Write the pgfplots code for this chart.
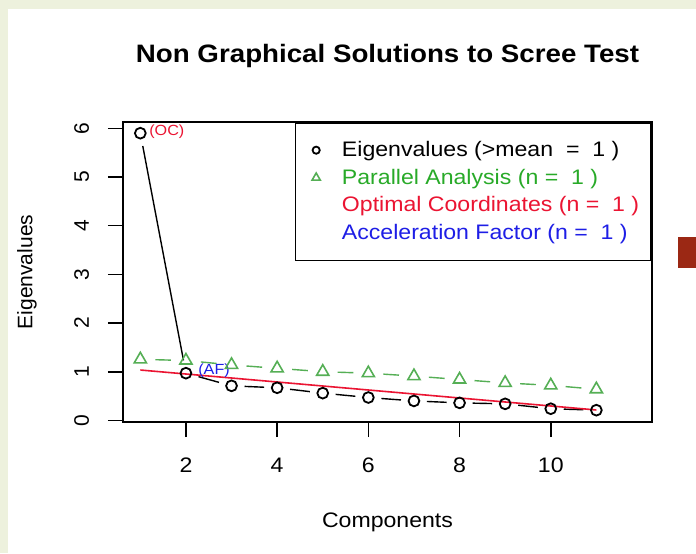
\documentclass[border=0pt]{standalone}
\usepackage{fontspec}
\setmainfont{Liberation Sans}[FakeStretch=1.1]
\newfontfamily\plainfont{Liberation Sans}
\usepackage{pgfplots}
\usepackage{pgfplotstable}
\pgfplotsset{compat=1.18}

\definecolor{bgstrip}{RGB}{237,241,221}
\definecolor{slidered}{RGB}{155,40,20}
\definecolor{pagreen}{RGB}{40,170,40}
\definecolor{pamark}{RGB}{85,175,85}
\definecolor{ocred}{RGB}{235,20,50}
\definecolor{afblue}{RGB}{30,30,230}

\pgfplotstableread{
x y
1 5.90
2 0.97
3 0.71
4 0.67
5 0.56
6 0.47
7 0.40
8 0.36
9 0.34
10 0.24
11 0.21
}\eigen

\pgfplotstableread{
x y
1 1.255
2 1.23
3 1.14
4 1.07
5 1.00
6 0.97
7 0.91
8 0.84
9 0.77
10 0.72
11 0.64
}\parallel

\begin{document}
\begin{tikzpicture}
\useasboundingbox (0,0) rectangle (348pt,276.5pt);
\fill[white] (0,0) rectangle (348pt,276.5pt);
\fill[bgstrip] (0,0) rectangle (4pt,276.5pt);
\fill[bgstrip] (0,272pt) rectangle (348pt,276.5pt);
\fill[slidered] (339pt,142.5pt) rectangle (348pt,158pt);
\begin{axis}[
  at={(61.5pt,65.5pt)}, anchor=south west,
  scale only axis, width=264.5pt, height=150pt,
  xmin=0.62, xmax=12.22, ymin=-0.033, ymax=6.13,
  xtick={2,4,6,8,10}, ytick={0,1,2,3,4,5,6},
  tick align=outside, xtick pos=left, ytick pos=left,
  major tick length=7.5pt,
  major tick style={black, line width=0.8pt},
  axis line style={black, line width=0.9pt},
  /pgf/number format/assume math mode=true,
  xticklabel style={font=\fontsize{10.5}{12}\selectfont, anchor=base, inner sep=0pt},
  xticklabel shift=17.85pt,
  yticklabel style={font=\plainfont\fontsize{10.5}{12}\selectfont, rotate=90, anchor=base, inner sep=0pt},
  yticklabel shift=9.5pt,
  xlabel={Components},
  xlabel style={at={(axis description cs:0.5,0)}, anchor=base, yshift=-52.5pt, inner sep=0pt, font=\fontsize{10.5}{12}\selectfont},
  ylabel={Eigenvalues},
  ylabel style={at={(axis description cs:-0.17146,0.5)}, anchor=base, inner sep=0pt, font=\plainfont\fontsize{10.5}{12}\selectfont},
  title={Non Graphical Solutions to Scree Test},
  title style={at={(axis description cs:0.5,1)}, anchor=base, yshift=23.85pt, inner sep=0pt, font=\bfseries\fontsize{12.6}{15}\selectfont},
  legend cell align=left,
  legend style={at={(rel axis cs:1,1)}, anchor=north east, draw=black, line width=0.8pt, fill=white,
    inner xsep=6pt, inner ysep=6.8pt, row sep=0pt, font=\fontsize{10.5}{12}\selectfont,
    nodes={inner sep=0pt, text height=10.2pt, text depth=3.6pt}},
  legend image code/.code={\draw[#1] plot coordinates {(0pt,0pt)}; \path (-4pt,0pt) (12.5pt,0pt);},
]
% eigenvalue connecting segments (type = "b")
\addplot[black, line width=0.7pt, shorten <=6.5pt, shorten >=6.5pt, forget plot] coordinates {(1,5.90) (2,0.97)};
\addplot[black, line width=0.7pt, shorten <=6.5pt, shorten >=6.5pt, forget plot] coordinates {(2,0.97) (3,0.71)};
\addplot[black, line width=0.7pt, shorten <=6.5pt, shorten >=6.5pt, forget plot] coordinates {(3,0.71) (4,0.67)};
\addplot[black, line width=0.7pt, shorten <=6.5pt, shorten >=6.5pt, forget plot] coordinates {(4,0.67) (5,0.56)};
\addplot[black, line width=0.7pt, shorten <=6.5pt, shorten >=6.5pt, forget plot] coordinates {(5,0.56) (6,0.47)};
\addplot[black, line width=0.7pt, shorten <=6.5pt, shorten >=6.5pt, forget plot] coordinates {(6,0.47) (7,0.40)};
\addplot[black, line width=0.7pt, shorten <=6.5pt, shorten >=6.5pt, forget plot] coordinates {(7,0.40) (8,0.36)};
\addplot[black, line width=0.7pt, shorten <=6.5pt, shorten >=6.5pt, forget plot] coordinates {(8,0.36) (9,0.34)};
\addplot[black, line width=0.7pt, shorten <=6.5pt, shorten >=6.5pt, forget plot] coordinates {(9,0.34) (10,0.24)};
\addplot[black, line width=0.7pt, shorten <=6.5pt, shorten >=6.5pt, forget plot] coordinates {(10,0.24) (11,0.21)};
% parallel analysis connecting segments
\addplot[pamark, line width=0.7pt, shorten <=7.5pt, shorten >=7.5pt, forget plot] coordinates {(1,1.255) (2,1.23)};
\addplot[pamark, line width=0.7pt, shorten <=7.5pt, shorten >=7.5pt, forget plot] coordinates {(2,1.23) (3,1.14)};
\addplot[pamark, line width=0.7pt, shorten <=7.5pt, shorten >=7.5pt, forget plot] coordinates {(3,1.14) (4,1.07)};
\addplot[pamark, line width=0.7pt, shorten <=7.5pt, shorten >=7.5pt, forget plot] coordinates {(4,1.07) (5,1.00)};
\addplot[pamark, line width=0.7pt, shorten <=7.5pt, shorten >=7.5pt, forget plot] coordinates {(5,1.00) (6,0.97)};
\addplot[pamark, line width=0.7pt, shorten <=7.5pt, shorten >=7.5pt, forget plot] coordinates {(6,0.97) (7,0.91)};
\addplot[pamark, line width=0.7pt, shorten <=7.5pt, shorten >=7.5pt, forget plot] coordinates {(7,0.91) (8,0.84)};
\addplot[pamark, line width=0.7pt, shorten <=7.5pt, shorten >=7.5pt, forget plot] coordinates {(8,0.84) (9,0.77)};
\addplot[pamark, line width=0.7pt, shorten <=7.5pt, shorten >=7.5pt, forget plot] coordinates {(9,0.77) (10,0.72)};
\addplot[pamark, line width=0.7pt, shorten <=7.5pt, shorten >=7.5pt, forget plot] coordinates {(10,0.72) (11,0.64)};
% markers
\addplot[only marks, black, mark=o, mark size=2.7pt, mark options={line width=0.9pt},
  legend image post style={mark size=1.8pt}] table[x=x,y=y] {\eigen};
\addlegendentry{Eigenvalues (>mean \ = \ 1 )}
\addplot[only marks, pamark, mark=triangle, mark size=3.5pt, mark options={line width=0.8pt},
  legend image post style={mark size=2.4pt}] table[x=x,y=y] {\parallel};
\addlegendentry{\textcolor{pagreen}{Parallel Analysis (n = \ 1 )}}
\addlegendimage{empty legend}
\addlegendentry{\textcolor{ocred}{Optimal Coordinates (n = \ 1 )}}
\addlegendimage{empty legend}
\addlegendentry{\textcolor{afblue}{Acceleration Factor (n = \ 1 )}}
% optimal coordinates line
\addplot[ocred, line width=0.8pt, forget plot] coordinates {(1,1.035) (11,0.214)};
% labels
\node[anchor=west, text=ocred, font=\fontsize{7.35}{8}\selectfont, inner sep=0pt, xshift=4.3pt, yshift=0.9pt] at (axis cs:1,5.90) {(OC)};
\node[anchor=west, text=afblue, font=\fontsize{7.35}{8}\selectfont, inner sep=0pt, xshift=6pt, yshift=1.3pt] at (axis cs:2,0.97) {(AF)};
\end{axis}
\end{tikzpicture}
\end{document}
